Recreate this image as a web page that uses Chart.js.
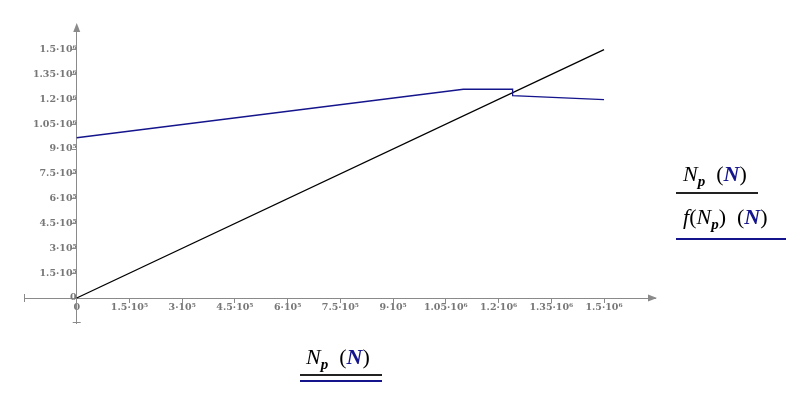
<!DOCTYPE html>
<html>
<head>
<meta charset="utf-8">
<script src="https://cdn.jsdelivr.net/npm/chart.js@4.4.1/dist/chart.umd.min.js"></script>
<style>
  body { margin: 0; background: #fff; }
  #wrap { position: relative; width: 805px; height: 398px; }
  canvas { position: absolute; left: 0; top: 0; }
  .lbl { position: absolute; font-family: "Liberation Serif", serif; font-size: 22px; line-height: 24px; white-space: nowrap; color: #000; }
  .lbl i { font-style: italic; }
  .lbl sub { font-size: 15px; font-style: italic; font-weight: bold; vertical-align: -5px; line-height: 0; }
  .lbl .u { color: #14148c; font-weight: bold; font-style: italic; }
  .rule { position: absolute; height: 1.5px; }
</style>
</head>
<body>
<div id="wrap">
  <canvas id="plot" width="805" height="398"></canvas>
  <div class="lbl" style="left:683px; top:162px;"><i>N</i><sub>p</sub>&nbsp;&nbsp;(<span class="u">N</span>)</div>
  <div class="rule" style="left:676px; top:192px; width:82px; background:#222;"></div>
  <div class="lbl" style="left:683px; top:205px;"><i>f</i>(<i>N</i><sub>p</sub>)&nbsp;&nbsp;(<span class="u">N</span>)</div>
  <div class="rule" style="left:676px; top:238px; width:110px; background:#14148c;"></div>
  <div class="lbl" style="left:306px; top:345px;"><i>N</i><sub>p</sub>&nbsp;&nbsp;(<span class="u">N</span>)</div>
  <div class="rule" style="left:300px; top:374px; width:82px; background:#222;"></div>
  <div class="rule" style="left:300px; top:380px; width:82px; background:#14148c;"></div>
</div>
<script>
// data
const npValues = [0, 1500000];
const npLine = [0, 1500000];
const fX = [0, 1100000, 1240000, 1240000, 1500000];
const fY = [968000, 1261000, 1261000, 1222000, 1198000];

const tickValues = [0, 150000, 300000, 450000, 600000, 750000, 900000, 1050000, 1200000, 1350000, 1500000];
const tickLabels = ['0', '1.5·10⁵', '3·10⁵', '4.5·10⁵', '6·10⁵', '7.5·10⁵', '9·10⁵',
                    '1.05·10⁶', '1.2·10⁶', '1.35·10⁶', '1.5·10⁶'];

const axisGrey = '#8a8a8a';
const labelFont = { family: 'DejaVu Serif', size: 9.5, weight: 'bold' };

// arrow heads and end caps like a Mathcad plot
const axisDecor = {
    id: 'axisDecor',
    afterDraw(chart) {
        const c = chart.ctx, xs = chart.scales.x, ys = chart.scales.y;
        const x0 = xs.getPixelForValue(0), y0 = ys.getPixelForValue(0);
        const a = chart.chartArea;
        c.save();
        c.fillStyle = axisGrey;
        c.strokeStyle = axisGrey;
        c.lineWidth = 1;
        c.beginPath();
        c.moveTo(a.right + 2, y0);
        c.lineTo(a.right - 7, y0 - 3.5);
        c.lineTo(a.right - 7, y0 + 3.5);
        c.closePath();
        c.fill();
        c.beginPath();
        c.moveTo(x0, a.top - 2);
        c.lineTo(x0 - 3.5, a.top + 7);
        c.lineTo(x0 + 3.5, a.top + 7);
        c.closePath();
        c.fill();
        c.beginPath();
        c.moveTo(a.left + 0.5, y0 - 4);
        c.lineTo(a.left + 0.5, y0 + 4);
        c.moveTo(x0 - 4, a.bottom - 0.5);
        c.lineTo(x0 + 4, a.bottom - 0.5);
        c.stroke();
        c.restore();
    }
};

function setTicks(scale) {
    scale.ticks = tickValues.map(v => ({ value: v }));
}

new Chart(document.getElementById('plot').getContext('2d'), {
    type: 'scatter',
    data: {
        datasets: [{
            data: fX.map((x, i) => ({ x: x, y: fY[i] })),
            showLine: true,
            borderColor: '#14148c',
            borderWidth: 1.3,
            pointRadius: 0,
            tension: 0
        }, {
            data: npValues.map((x, i) => ({ x: x, y: npLine[i] })),
            showLine: true,
            borderColor: '#000',
            borderWidth: 1.3,
            pointRadius: 0,
            tension: 0
        }]
    },
    options: {
        responsive: false,
        animation: false,
        layout: { padding: { left: 24, right: 150, top: 25, bottom: 75 } },
        plugins: { legend: { display: false }, tooltip: { enabled: false } },
        scales: {
            x: {
                type: 'linear',
                position: { y: 0 },
                min: -150000,
                max: 1645000,
                afterBuildTicks: setTicks,
                border: { color: axisGrey, width: 1 },
                grid: { drawOnChartArea: false, drawTicks: true, tickLength: 4, color: axisGrey },
                ticks: {
                    autoSkip: false,
                    maxRotation: 0,
                    padding: 0,
                    color: '#777',
                    font: labelFont,
                    callback: (v, i) => tickLabels[i]
                }
            },
            y: {
                type: 'linear',
                position: { x: 0 },
                min: -151000,
                max: 1649000,
                afterBuildTicks: setTicks,
                border: { color: axisGrey, width: 1 },
                grid: { drawOnChartArea: false, drawTicks: true, tickLength: 4, color: axisGrey },
                ticks: {
                    autoSkip: false,
                    padding: 0,
                    color: '#777',
                    font: labelFont,
                    callback: (v, i) => tickLabels[i]
                }
            }
        }
    },
    plugins: [axisDecor]
});
</script>
</body>
</html>
